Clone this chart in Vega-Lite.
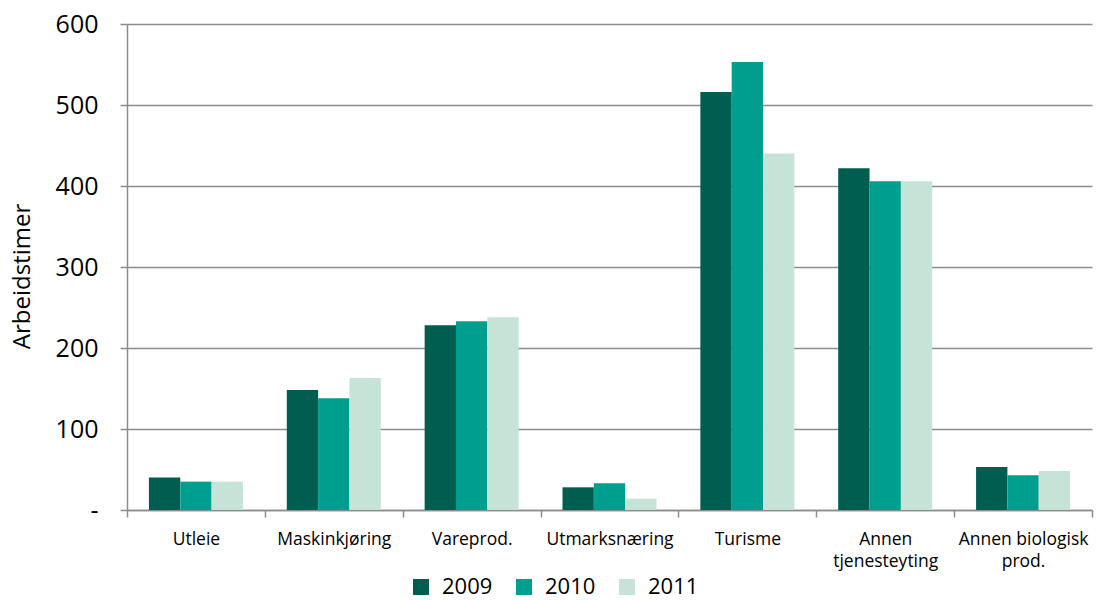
{
  "$schema": "https://vega.github.io/schema/vega-lite/v6.json",
  "width": 965,
  "height": 486,
  "autosize": "none",
  "padding": {"left": 127, "top": 24, "right": 7, "bottom": 91},
  "background": "white",
  "config": {"font": "Open Sans", "view": {"stroke": null}},
  "data": {"values": [
    {"kategori": "Utleie", "år": "2009", "timer": 40},
    {"kategori": "Utleie", "år": "2010", "timer": 35},
    {"kategori": "Utleie", "år": "2011", "timer": 35},
    {"kategori": "Maskinkjøring", "år": "2009", "timer": 148},
    {"kategori": "Maskinkjøring", "år": "2010", "timer": 138},
    {"kategori": "Maskinkjøring", "år": "2011", "timer": 163},
    {"kategori": "Vareprod.", "år": "2009", "timer": 228},
    {"kategori": "Vareprod.", "år": "2010", "timer": 233},
    {"kategori": "Vareprod.", "år": "2011", "timer": 238},
    {"kategori": "Utmarksnæring", "år": "2009", "timer": 28},
    {"kategori": "Utmarksnæring", "år": "2010", "timer": 33},
    {"kategori": "Utmarksnæring", "år": "2011", "timer": 14},
    {"kategori": "Turisme", "år": "2009", "timer": 516},
    {"kategori": "Turisme", "år": "2010", "timer": 553},
    {"kategori": "Turisme", "år": "2011", "timer": 440},
    {"kategori": "Annen tjenesteyting", "år": "2009", "timer": 422},
    {"kategori": "Annen tjenesteyting", "år": "2010", "timer": 406},
    {"kategori": "Annen tjenesteyting", "år": "2011", "timer": 406},
    {"kategori": "Annen biologisk prod.", "år": "2009", "timer": 53},
    {"kategori": "Annen biologisk prod.", "år": "2010", "timer": 43},
    {"kategori": "Annen biologisk prod.", "år": "2011", "timer": 48}
  ]},
  "mark": {"type": "bar"},
  "encoding": {
    "x": {
      "field": "kategori", "type": "nominal", "sort": null,
      "scale": {"paddingInner": 0, "paddingOuter": 0},
      "axis": {
        "title": null, "labelAngle": 0, "tickBand": "extent",
        "domainColor": "#8c8c8c", "domainWidth": 1.5, "tickColor": "#8c8c8c", "tickWidth": 1.5, "tickSize": 7,
        "labelFontSize": 17.5, "labelColor": "#000", "labelPadding": 13, "labelLineHeight": 22,
        "labelExpr": "datum.label == 'Annen tjenesteyting' ? ['Annen','tjenesteyting'] : datum.label == 'Annen biologisk prod.' ? ['Annen biologisk','prod.'] : datum.label"
      }
    },
    "xOffset": {"field": "år", "type": "nominal", "scale": {"paddingOuter": 0.7, "paddingInner": 0}},
    "y": {
      "field": "timer", "type": "quantitative",
      "scale": {"domain": [0, 600], "nice": false},
      "axis": {
        "values": [0, 100, 200, 300, 400, 500, 600],
        "labelExpr": "datum.value == 0 ? '-' : datum.label",
        "title": "Arbeidstimer", "titleFontSize": 24, "titleFontWeight": "normal", "titleColor": "#000",
        "titleX": -105, "titleY": 252, "titleAngle": -90, "titleAlign": "center", "titleBaseline": "middle",
        "labelFontSize": 25, "labelColor": "#000", "labelPadding": 22,
        "domainColor": "#8c8c8c", "domainWidth": 1.5, "tickColor": "#8c8c8c", "tickWidth": 1.5, "tickSize": 7,
        "gridColor": "#8c8c8c", "gridWidth": 1.5
      }
    },
    "color": {
      "field": "år", "type": "nominal",
      "scale": {"domain": ["2009", "2010", "2011"], "range": ["#005E50", "#009E8E", "#C6E3D8"]},
      "legend": {
        "title": null, "orient": "none", "direction": "horizontal",
        "legendX": 283, "legendY": 552, "padding": 0,
        "symbolType": "square", "symbolSize": 256, "symbolStrokeWidth": 0,
        "labelFontSize": 22, "labelColor": "#000", "labelOffset": 10, "columnPadding": 20
      }
    }
  }
}
